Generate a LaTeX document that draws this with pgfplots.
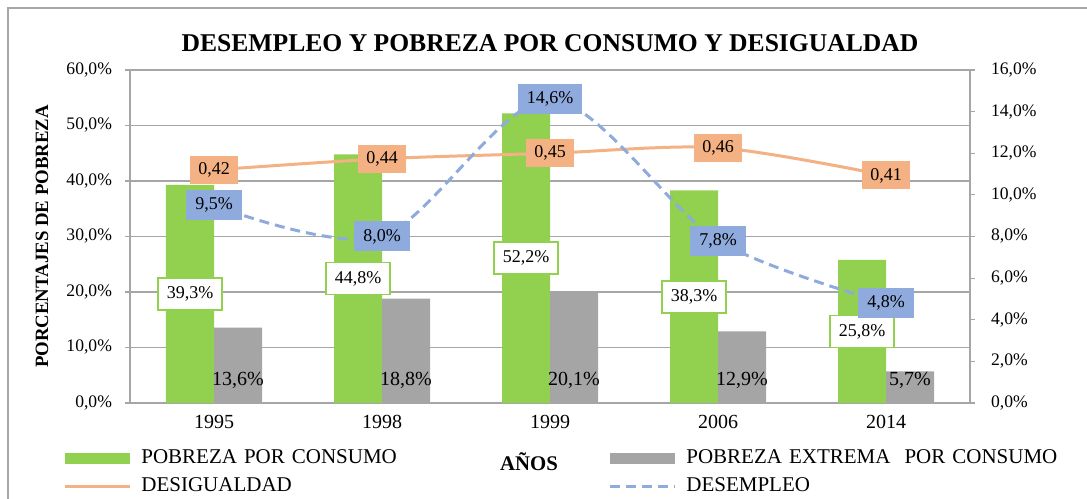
\documentclass[border=0pt]{standalone}
\usepackage{pgfplots}
\pgfplotsset{compat=1.18}
\usepackage{fontspec}
\setmainfont{Liberation Serif}

\definecolor{verde}{HTML}{92D050}
\definecolor{gris}{HTML}{A5A5A5}
\definecolor{naranja}{HTML}{F4B183}
\definecolor{azul}{HTML}{8FAADC}
\definecolor{ejes}{HTML}{A6A6A6}

\newcommand{\lblfont}{\fontsize{9}{10}\selectfont}

\pgfplotsset{
  barleg/.style={legend image code/.code={\fill[##1] (0pt,-2.75pt) rectangle (32.5pt,2.75pt);}},
  lineleg/.style={legend image code/.code={\draw[##1] (0pt,0pt) -- (32.5pt,0pt);}},
  base/.style={
    scale only axis, width=420pt, height=166.5pt,
    xmin=-0.5, xmax=4.5,
    tick align=outside, major tick length=2.5pt,
    /pgf/number format/assume math mode=true,
    y tick label style={font=\fontsize{8.8}{10}\selectfont},
    axis line style={ejes, line width=0.6pt},
    y tick style={ejes, line width=0.6pt},
    scaled y ticks=false,
  },
}

\begin{document}
\begin{tikzpicture}
\begin{axis}[
  base, name=ax,
  ymin=0, ymax=60, ytick={0,10,...,60},
  xtick={0,...,4}, xticklabels={1995,1998,1999,2006,2014},
  x tick style={draw=none},
  xticklabel style={font=\fontsize{10}{12}\selectfont},
  axis x line*=bottom, axis y line*=left,
  ymajorgrids, grid style={ejes, line width=0.6pt},
  yticklabel={\pgfmathprintnumber[fixed,fixed zerofill,precision=1,use comma]{\tick}\%},
  yticklabel shift=3pt,
  ylabel={PORCENTAJES DE POBREZA},
  ylabel style={font=\bfseries\fontsize{9.4}{11}\selectfont, at={(axis description cs:-0.1048,0.5)}, anchor=center},
  xlabel={AÑOS},
  xlabel style={font=\bfseries\fontsize{10.4}{12}\selectfont, at={(axis description cs:0.475,-0.177)}, anchor=center},
  legend columns=2,
  legend cell align=left,
  legend style={draw=none, fill=none, inner sep=0pt,
    at={(axis description cs:-0.0798,-0.135)}, anchor=north west,
    font=\fontsize{10.5}{12}\selectfont,
    nodes={inner sep=0pt, text width=228pt, align=left, text height=7.5pt, text depth=2.5pt},
    row sep=4pt,
    /tikz/column 1/.style={column sep=5pt},
    /tikz/column 2/.style={column sep=5.5pt},
    /tikz/column 3/.style={column sep=5pt}},
]
\addplot[ybar, fill=verde, draw=none, bar width=24pt, bar shift=-12pt, barleg]
  coordinates {(0,39.3) (1,44.8) (2,52.2) (3,38.3) (4,25.8)};
\addlegendentry{POBREZA POR CONSUMO}
\addplot[ybar, fill=gris, draw=none, bar width=24pt, bar shift=12pt, barleg]
  coordinates {(0,13.6) (1,18.8) (2,20.1) (3,12.9) (4,5.7)};
\addlegendentry{POBREZA EXTREMA\ \ POR CONSUMO}
\addplot[naranja, line width=1.5pt, smooth, mark=none, lineleg,
  nodes near coords, point meta=explicit symbolic,
  nodes near coords style={anchor=center, fill=naranja, text=black, font=\lblfont,
    inner xsep=4pt, minimum height=14pt}]
  coordinates {(0,42)[0,42] (1,44)[0,44] (2,45)[0,45] (3,46)[0,46] (4,41)[0,41]};
\addlegendentry{DESIGUALDAD}
\addlegendimage{azul, line width=1.5pt, dash pattern=on 5pt off 3pt, lineleg}
\addlegendentry{DESEMPLEO}
% etiquetas de las barras
\addplot[forget plot, draw=none, mark=none, nodes near coords, point meta=explicit symbolic,
  nodes near coords style={anchor=center, xshift=-12pt, fill=white, draw=verde, line width=0.8pt,
    text=black, font=\lblfont, inner xsep=4.5pt, minimum height=16pt}]
  coordinates {(0,19.65)[39,3\%] (1,22.4)[44,8\%] (2,26.1)[52,2\%] (3,19.15)[38,3\%] (4,12.9)[25,8\%]};
\addplot[forget plot, draw=none, mark=none, nodes near coords, point meta=explicit symbolic,
  nodes near coords style={anchor=center, xshift=12pt, text=black, font=\fontsize{10}{11}\selectfont}]
  coordinates {(0,4.0)[13,6\%] (1,4.0)[18,8\%] (2,4.0)[20,1\%] (3,4.0)[12,9\%] (4,4.0)[5,7\%]};
\end{axis}

\begin{axis}[
  base,
  ymin=0, ymax=16, ytick={0,2,...,16},
  axis x line=none, axis y line*=right,
  yticklabel={\pgfmathprintnumber[fixed,fixed zerofill,precision=1,use comma]{\tick}\%},
  yticklabel shift=4.5pt,
]
\addplot[azul, line width=1.5pt, dash pattern=on 5pt off 3pt, smooth, mark=none,
  nodes near coords, point meta=explicit symbolic,
  nodes near coords style={anchor=center, fill=azul, text=black, font=\lblfont,
    inner xsep=4.4pt, minimum height=15pt}]
  coordinates {(0,9.5)[9,5\%] (1,8.0)[8,0\%] (2,14.6)[14,6\%] (3,7.8)[7,8\%] (4,4.8)[4,8\%]};
\node[font=\bfseries\fontsize{9.6}{12}\selectfont, align=center, anchor=center]
  at (rel axis cs:1.107,0.477) {P\\O\\R\\C\\E\\N\\T\\A\\J\\E\\S};
\end{axis}

\node[font=\bfseries\fontsize{12.8}{14}\selectfont, anchor=center]
  at ([yshift=13.5pt]ax.north) {DESEMPLEO Y POBREZA POR CONSUMO Y DESIGUALDAD};
\draw[ejes, line width=0.6pt] ([shift={(-61pt,-60pt)}]ax.south west) rectangle ([shift={(490pt,197.5pt)}]ax.south west);
\pgfresetboundingbox
\path[use as bounding box] ([shift={(-65pt,-47.5pt)}]ax.south west) rectangle ([shift={(478.5pt,201.5pt)}]ax.south west);
\end{tikzpicture}
\end{document}
